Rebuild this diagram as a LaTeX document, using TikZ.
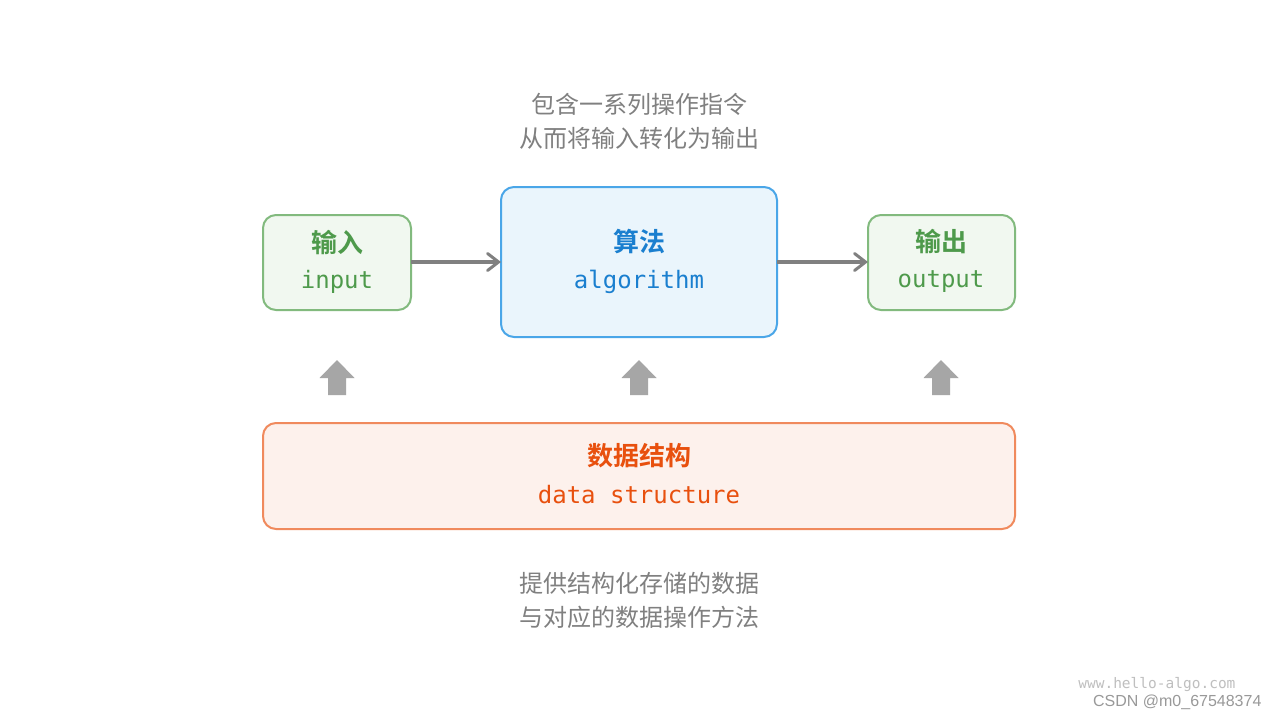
\documentclass[tikz,border=0pt]{standalone}
\usepackage{fontspec}
\newfontfamily\cjk{Noto Sans CJK SC}
\newfontfamily\cjkb{Noto Sans CJK SC Bold}
\newfontfamily\mono{DejaVu Sans Mono}
\newfontfamily\wsans{Liberation Sans}
\usetikzlibrary{arrows.meta}
\definecolor{txtgray}{HTML}{808080}
\definecolor{grnfill}{HTML}{F1F8F0}
\definecolor{grnline}{HTML}{82BA7E}
\definecolor{grntxt}{HTML}{4E9A4B}
\definecolor{blufill}{HTML}{EAF5FC}
\definecolor{bluline}{HTML}{4AA6E8}
\definecolor{blutxt}{HTML}{1A7FCF}
\definecolor{orgfill}{HTML}{FDF1EC}
\definecolor{orgline}{HTML}{F08A5D}
\definecolor{orgtxt}{HTML}{E8500E}
\definecolor{arrgray}{HTML}{808080}
\definecolor{blockgray}{HTML}{A6A6A6}
\begin{document}
\begin{tikzpicture}[x=1pt,y=-1pt,
  box/.style={rounded corners=13pt, line width=2pt, inner sep=0pt},
  note/.style={text=txtgray, font=\cjk\fontsize{24}{34}\selectfont, align=center},
  conn/.style={draw=arrgray, line width=3.5pt, -{Straight Barb[length=11pt,width=17pt,line width=3pt, line cap=round]}},
  upar/.style={fill=blockgray, draw=none}
]
\useasboundingbox (0,0) rectangle (1280,720);
\fill[white] (0,0) rectangle (1280,720);

% top note
\node[note] (topnote) at (639,121) {包含一系列操作指令\\从而将输入转化为输出};

% boxes
\draw[box, fill=grnfill, draw=grnline] (263,215) rectangle (411,310);
\coordinate (inL) at (263,262);
\coordinate (inR) at (411,262);
\draw[box, fill=blufill, draw=bluline] (501,187) rectangle (777,337);
\coordinate (alL) at (501,262);
\coordinate (alR) at (777,262);
\draw[box, fill=grnfill, draw=grnline] (868,215) rectangle (1015,310);
\coordinate (outL) at (868,262);
\draw[box, fill=orgfill, draw=orgline] (263,423) rectangle (1015,529);

% box texts
\node[text=grntxt, font=\cjkb\fontsize{26}{26}\selectfont] (intitle) at (337,242) {输入};
\node[text=grntxt, font=\mono\fontsize{24}{24}\selectfont] (insub) at (337,282) {input};
\node[text=blutxt, font=\cjkb\fontsize{26}{26}\selectfont] (altitle) at (639,242) {算法};
\node[text=blutxt, font=\mono\fontsize{24}{24}\selectfont] (alsub) at (639,282) {algorithm};
\node[text=grntxt, font=\cjkb\fontsize{26}{26}\selectfont] (outtitle) at (941,242) {输出};
\node[text=grntxt, font=\mono\fontsize{24}{24}\selectfont] (outsub) at (941,282) {output};
\node[text=orgtxt, font=\cjkb\fontsize{26}{26}\selectfont] (dstitle) at (639,456) {数据结构};
\node[text=orgtxt, font=\mono\fontsize{24}{24}\selectfont] (dssub) at (639,495) {data structure};

% connectors
\draw[conn] (inR) -- (alL);
\draw[conn] (alR) -- (outL);

% block up arrows
\foreach \cx/\nm in {337/ua, 639/ub, 941/uc}{
  \fill[upar] (\cx,360) -- (\cx+17.5,378) -- (\cx+9,378) -- (\cx+9,395) -- (\cx-9,395) -- (\cx-9,378) -- (\cx-17.5,378) -- cycle;
}

% bottom note
\node[note] (botnote) at (639,600) {提供结构化存储的数据\\与对应的数据操作方法};

% watermark
\node[text=black!25, font=\mono\fontsize{14.5}{14.5}\selectfont, anchor=east] (wm1) at (1239,685) {www.hello-algo.com};
\node[text=black!40, font=\wsans\fontsize{16}{16}\selectfont, anchor=east] (wm2) at (1265,702) {CSDN @m0\_67548374};
\end{tikzpicture}
\end{document}
